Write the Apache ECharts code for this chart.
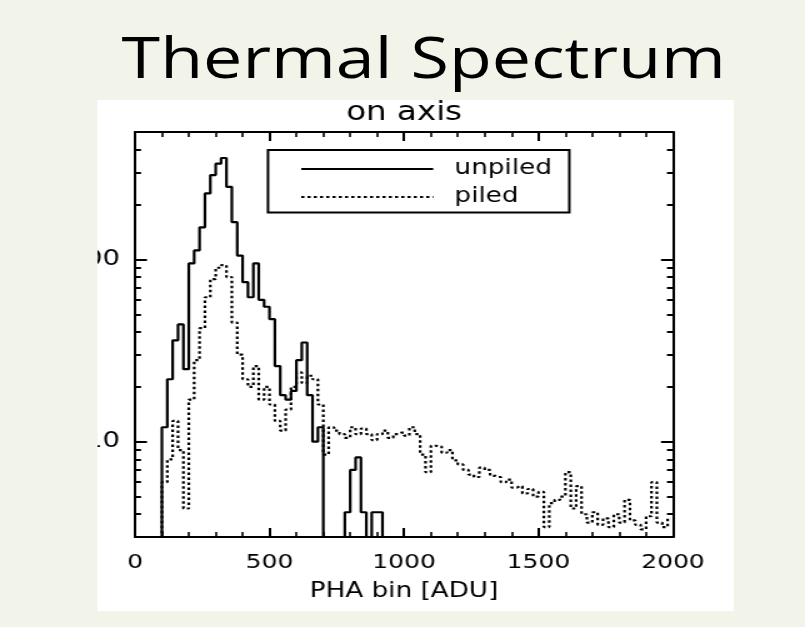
<!DOCTYPE html>
<html>
<head>
<meta charset="utf-8">
<script src="https://cdn.jsdelivr.net/npm/echarts@6/dist/echarts.min.js"></script>
<style>
  html, body { margin: 0; padding: 0; background: #f2f3e9; overflow: hidden; }
  /* the slide is laid out on a narrower canvas and widened horizontally */
  #slide { position: absolute; left: 0; top: 0; width: 644px; height: 627px;
           transform: scaleX(1.25); transform-origin: 0 0; background: #f2f3e9; }
  #heading { position: absolute; left: 0; top: 18px; width: 678px; margin: 0;
             text-align: center; font: normal 56px/76px "Open Sans", sans-serif; color: #000; white-space: nowrap; }
  #panel { position: absolute; left: 78px; top: 100px; width: 509px; height: 511px; background: #ffffff; }
</style>
</head>
<body>
<div id="slide">
  <h1 id="heading"></h1>
  <div id="panel"></div>
</div>
<script>
// ---- spectrum data: counts per PHA bin (20 ADU wide, bins start at 0) ----
const BIN_WIDTH = 20;

const unpiled = [
  0, 0, 0, 0, 0, 12, 22, 36, 44, 25,
  95, 112, 150, 230, 290, 335, 360, 250, 160, 105,
  75, 62, 95, 60, 55, 47, 26, 18, 17, 19,
  28, 35, 18, 10, 12, 0, 0, 0, 0, 4.1,
  7, 8.2, 4.1, 0, 4.1, 4.1, 0, 0, 0, 0,
  0, 0, 0, 0, 0, 0, 0, 0, 0, 0,
  0, 0, 0, 0, 0, 0, 0, 0, 0, 0,
  0, 0, 0, 0, 0, 0, 0, 0, 0, 0,
  0, 0, 0, 0, 0, 0, 0, 0, 0, 0,
  0, 0, 0, 0, 0, 0, 0, 0, 0, 0
];

const piled = [
  0, 0, 0, 0, 0, 6, 8, 13, 9, 4.3,
  17, 28, 42, 62, 78, 90, 93, 80, 45, 30,
  22, 20, 26, 17, 20, 16, 13, 11.5, 15, 20,
  24, 21, 23, 22, 16, 8.5, 12, 11.5, 11, 10.5,
  12, 11, 11.8, 11, 10.2, 11, 11.5, 10.5, 11, 11.2,
  10.8, 12, 11, 8.5, 6.8, 9.5, 9.4, 8.7, 9.0, 7.9,
  7.5, 7.0, 6.6, 6.4, 7.2, 7.0, 6.5, 6.4, 6.0, 6.2,
  5.6, 5.7, 5.2, 5.5, 5.0, 5.3, 3.4, 4.6, 4.8, 5.0,
  6.8, 4.3, 5.7, 4.0, 3.6, 4.1, 3.5, 3.8, 3.4, 4.0,
  3.6, 4.8, 3.7, 3.5, 3.3, 3.9, 6.0, 3.6, 3.4, 3.8
];

// ---- axes ----
const X_RANGE = [0, 2000];
const X_MAJOR_STEP = 500;
const Y_RANGE = [3, 500];                 // counts, logarithmic
const yMajorTicks = [10, 100];
const yMinorTicks = [3, 4, 5, 6, 7, 8, 9, 20, 30, 40, 50, 60, 70, 80, 90, 200, 300, 400, 500];

const seriesNames = ['unpiled', 'piled'];
const xAxisName = 'PHA bin [ADU]';
const plotTitle = 'on axis';
const slideTitle = 'Thermal Spectrum';

document.getElementById('heading').textContent = slideTitle;

// counts are plotted on a log10 scale; empty bins drop below the axis floor
const lg = v => Math.log10(v);
const toPoints = counts => counts.map((c, i) => [BIN_WIDTH * (i + 0.5), c > 0 ? lg(c) : 0]);

const INK = '#000000';
const PLOT_FONT = '"DejaVu Sans", sans-serif';

// ---- spectrum plot ----
function yAxisSide(position, ticks, tickLen, showLine, showLabels) {
  return {
    type: 'value', position: position,
    min: lg(Y_RANGE[0]), max: lg(Y_RANGE[1]),
    axisLine: { show: showLine, lineStyle: { color: INK, width: 2 } },
    axisTick: { show: true, inside: true, length: tickLen, customValues: ticks.map(lg),
                lineStyle: { color: INK, width: 2 } },
    axisLabel: { show: showLabels, customValues: yMajorTicks.map(lg), margin: 12,
                 formatter: v => String(Math.round(Math.pow(10, v))),
                 color: INK, fontSize: 22, fontFamily: PLOT_FONT },
    splitLine: { show: false }
  };
}

function xAxisSide(position, showLabels) {
  return {
    type: 'value', position: position,
    min: X_RANGE[0], max: X_RANGE[1], interval: X_MAJOR_STEP,
    name: showLabels ? xAxisName : '', nameLocation: 'middle', nameGap: 44,
    nameTextStyle: { color: INK, fontSize: 21, fontFamily: PLOT_FONT },
    axisLine: { show: true, lineStyle: { color: INK, width: 2 } },
    axisTick: { show: true, inside: true, length: 9, lineStyle: { color: INK, width: 2 } },
    minorTick: { show: true, splitNumber: 5, length: 5, lineStyle: { color: INK, width: 1.6 } },
    axisLabel: { show: showLabels, margin: 16, formatter: v => String(v),
                 color: INK, fontSize: 20, fontFamily: PLOT_FONT },
    splitLine: { show: false }
  };
}

const plot = echarts.init(document.getElementById('panel'));
plot.setOption({
  animation: false,
  grid: { left: 30, right: 48.6, top: 32, bottom: 74, outerBoundsMode: 'none' },
  graphic: [{
    type: 'text', x: 245.3, y: 13,
    style: { text: plotTitle, fill: INK, align: 'center', verticalAlign: 'middle',
             fontSize: 26, fontFamily: PLOT_FONT }
  }],
  legend: {
    orient: 'vertical', left: 136.4, top: 50,
    padding: [8.5, 14, 5, 25.6], itemGap: 7,
    itemWidth: 105.6, itemHeight: 14,
    borderColor: INK, borderWidth: 2, borderRadius: 0,
    itemStyle: { opacity: 0 },
    data: seriesNames,
    textStyle: { color: INK, fontSize: 21, fontFamily: PLOT_FONT, padding: [0, 0, 0, 12] }
  },
  xAxis: [xAxisSide('bottom', true), xAxisSide('top', false)],
  yAxis: [
    yAxisSide('left', yMajorTicks, 9.6, true, true),
    yAxisSide('left', yMinorTicks, 4.8, false, false),
    yAxisSide('right', yMajorTicks, 9.6, true, false),
    yAxisSide('right', yMinorTicks, 4.8, false, false)
  ],
  series: [
    {
      name: seriesNames[0], type: 'line', step: 'middle', symbol: 'none',
      xAxisIndex: 0, yAxisIndex: 0,
      color: INK, lineStyle: { color: INK, width: 2.2, type: 'solid' },
      data: toPoints(unpiled)
    },
    {
      name: seriesNames[1], type: 'line', step: 'middle', symbol: 'none',
      xAxisIndex: 0, yAxisIndex: 0,
      color: INK, lineStyle: { color: INK, width: 2.2, type: [2.5, 2.5] },
      data: toPoints(piled)
    }
  ]
});
plot.getZr().refreshImmediately();
</script>
</body>
</html>
